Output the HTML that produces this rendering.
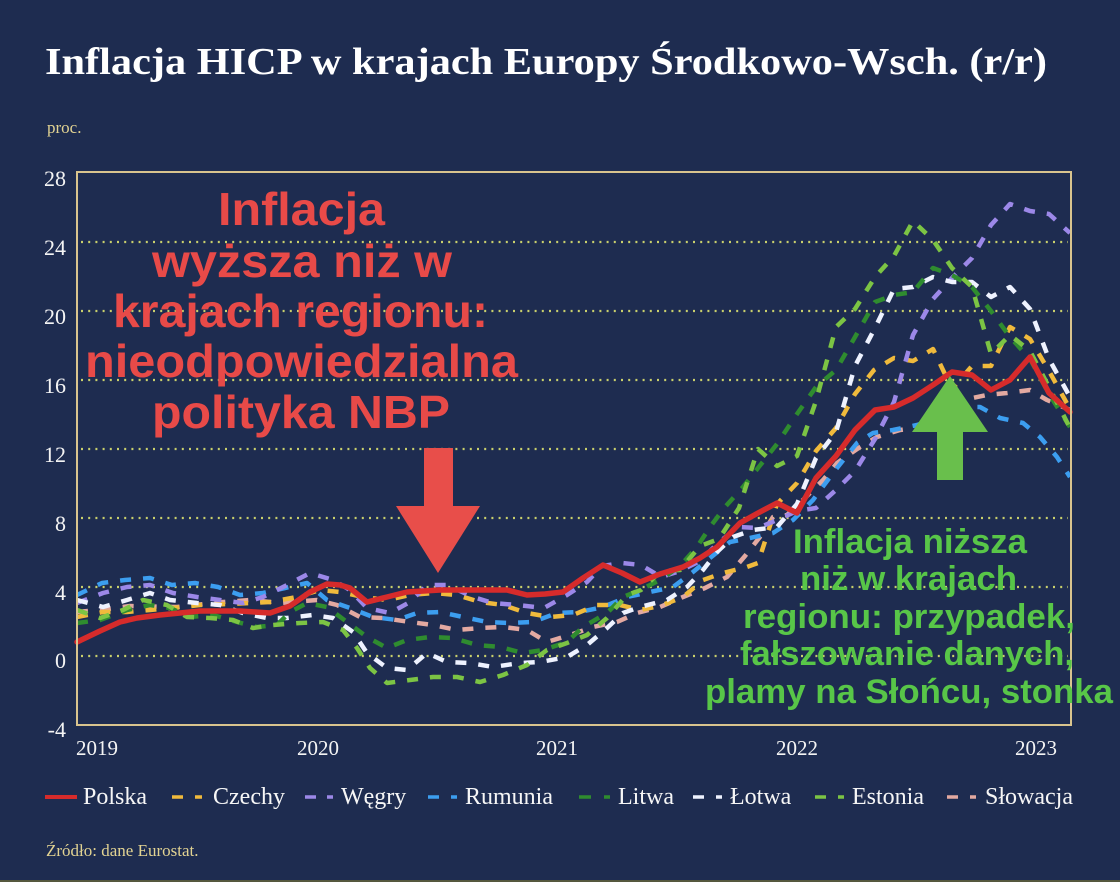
<!DOCTYPE html>
<html>
<head>
<meta charset="utf-8">
<style>
html,body{margin:0;padding:0;background:#1e2c50;}
body{width:1120px;height:882px;overflow:hidden;}
svg{display:block;}
</style>
</head>
<body>
<svg width="1120" height="882" viewBox="0 0 1120 882" xmlns="http://www.w3.org/2000/svg">
<rect x="0" y="0" width="1120" height="882" fill="#1e2c50"/>
<rect x="0" y="880" width="1120" height="2" fill="#55583d"/>

<!-- Title -->
<text x="45" y="74" font-family="Liberation Serif, serif" font-weight="bold" font-size="38" fill="#ffffff" textLength="1002" lengthAdjust="spacingAndGlyphs">Inflacja HICP w krajach Europy Środkowo-Wsch. (r/r)</text>
<text x="47" y="133" font-family="Liberation Serif, serif" font-size="17" fill="#e2d392">proc.</text>

<!-- Gridlines -->
<g stroke="#c9d06c" stroke-width="2.2" stroke-dasharray="2 5.2" fill="none">
<line x1="81" y1="242" x2="1068" y2="242"/>
<line x1="81" y1="311" x2="1068" y2="311"/>
<line x1="81" y1="380" x2="1068" y2="380"/>
<line x1="81" y1="449" x2="1068" y2="449"/>
<line x1="81" y1="518" x2="1068" y2="518"/>
<line x1="81" y1="587" x2="1068" y2="587"/>
<line x1="81" y1="656" x2="1068" y2="656"/>
</g>

<!-- Y labels -->
<g font-family="Liberation Serif, serif" font-size="22" fill="#f4f4f4" text-anchor="end">
<text x="66" y="186">28</text>
<text x="66" y="255">24</text>
<text x="66" y="324">20</text>
<text x="66" y="393">16</text>
<text x="66" y="462">12</text>
<text x="66" y="531">8</text>
<text x="66" y="600">4</text>
<text x="66" y="668">0</text>
<text x="66" y="737">-4</text>
</g>

<!-- X labels -->
<g font-family="Liberation Serif, serif" font-size="21" fill="#f4f4f4" text-anchor="middle">
<text x="76" y="755" text-anchor="start">2019</text>
<text x="318" y="755">2020</text>
<text x="557" y="755">2021</text>
<text x="797" y="755">2022</text>
<text x="1036" y="755">2023</text>
</g>

<!-- Series -->
<g fill="none" stroke-width="4.5" stroke-dasharray="11 12" stroke-linejoin="round">
<!-- Słowacja -->
<polyline stroke="#e3a9a1" points="77,612 100,610 130,606 177,607 223,602 250,600 280,603 317,600 337,605 360,617 383,618 410,622 433,625 457,630 480,628 503,627 527,630 547,642 570,635 593,627 617,622 637,613 660,607 683,597 705,588 727,577 745,556 763,533 773,517 787,515 805,498 823,480 837,463 860,447 877,437 900,430 923,427 943,420 963,400 987,395 1007,393 1030,390 1047,400 1063,407 1070,410"/>
<!-- Rumunia -->
<polyline stroke="#3c9ef0" points="77,595 102,583 125,580 150,578 172,585 195,583 218,587 240,595 263,593 285,588 307,583 327,600 350,608 373,617 397,620 417,613 440,612 463,617 487,622 510,623 533,622 557,613 580,612 603,607 627,597 650,592 673,587 693,572 710,558 730,542 750,538 773,533 793,520 813,500 833,473 857,443 873,433 893,430 917,425 933,420 957,407 980,407 1000,418 1023,423 1040,437 1057,457 1070,477"/>
<!-- Czechy -->
<polyline stroke="#f0ba3c" points="77,617 103,612 127,612 150,610 173,608 200,605 230,604 270,602 297,597 320,590 340,592 363,597 387,600 410,595 433,593 457,595 480,602 503,605 527,613 550,617 573,615 597,605 620,605 640,610 660,606 683,597 703,580 723,573 747,567 758,563 777,504 797,483 816,451 836,428 855,394 874,370 894,358 913,361 933,349 952,389 972,366 991,366 1010,327 1030,339 1049,371 1070,409"/>
<!-- Węgry -->
<polyline stroke="#9c88e8" points="77,603 103,593 127,587 150,585 173,593 197,597 220,600 243,603 263,597 287,585 310,573 333,580 350,590 367,608 390,613 410,602 427,585 447,585 473,597 493,603 517,605 544,608 567,595 587,582 602,566 622,563 641,565 661,577 680,571 700,561 719,542 739,527 758,528 777,520 797,511 816,508 836,490 855,471 875,439 894,402 913,335 933,299 952,278 972,258 991,225 1010,204 1030,211 1049,214 1070,233"/>
<!-- Łotwa -->
<polyline stroke="#eef2ff" points="77,600 103,607 127,600 150,593 170,600 197,603 220,605 243,613 267,618 287,618 313,615 333,618 353,632 367,653 387,668 407,670 427,653 447,662 470,663 493,667 520,663 540,662 567,657 587,645 607,628 623,613 640,607 667,600 687,587 703,570 717,552 733,537 753,530 777,527 797,504 816,458 836,432 855,366 875,328 894,289 913,287 933,277 952,282 972,282 991,297 1010,287 1030,309 1049,359 1070,397"/>
<!-- Litwa -->
<polyline stroke="#2f8c2f" points="77,623 100,620 127,610 150,605 170,608 190,617 213,615 237,622 257,627 277,625 290,612 307,603 327,607 347,622 367,637 387,648 407,640 430,637 453,638 477,645 500,647 523,653 543,650 567,642 583,627 607,613 623,597 640,590 660,580 680,566 697,547 710,527 725,507 743,487 758,468 777,444 797,414 816,387 836,370 855,337 875,302 894,295 913,292 933,268 952,275 972,287 991,311 1010,337 1030,359 1049,394 1070,427"/>
<!-- Estonia -->
<polyline stroke="#7cc444" points="77,610 100,618 123,610 143,600 167,605 187,617 210,618 233,620 253,628 273,625 300,623 323,622 343,630 357,648 370,668 387,683 410,680 433,677 457,677 480,682 503,675 527,665 547,650 567,643 587,635 607,618 627,595 641,590 661,571 680,570 700,546 719,539 739,508 758,449 777,466 797,456 816,401 836,327 855,309 875,277 894,256 913,221 933,240 952,268 972,287 991,354 1010,335 1030,351 1049,387 1070,428"/>
</g>
<!-- Polska -->
<polyline fill="none" stroke="#d62b2b" stroke-width="5.5" stroke-linejoin="round" stroke-linecap="round" points="77,642 100,631 120,622 137,618 160,615 200,611 240,611 270,613 290,606 310,592 327,584 340,585 350,588 367,602 387,597 407,592 440,590 470,590 507,590 527,595 545,594 563,592 583,578 603,565 622,573 640,582 660,574 683,567 700,558 717,547 740,523 758,513 777,503 797,513 816,478 836,456 855,430 875,410 894,407 913,398 933,385 952,372 972,375 991,390 1010,380 1030,357 1049,393 1070,412"/>

<!-- Frame -->
<rect x="77" y="172" width="994" height="553" fill="none" stroke="#d9c48e" stroke-width="2"/>

<!-- Red annotation -->
<g font-family="Liberation Sans, Arial, sans-serif" font-weight="bold" font-size="46" fill="#e84a48" lengthAdjust="spacingAndGlyphs">
<text x="218" y="225" textLength="167" lengthAdjust="spacingAndGlyphs">Inflacja</text>
<text x="152" y="277" textLength="300" lengthAdjust="spacingAndGlyphs">wyższa niż w</text>
<text x="113" y="327" textLength="375" lengthAdjust="spacingAndGlyphs">krajach regionu:</text>
<text x="85" y="377" textLength="433" lengthAdjust="spacingAndGlyphs">nieodpowiedzialna</text>
<text x="152" y="428" textLength="298" lengthAdjust="spacingAndGlyphs">polityka NBP</text>
</g>
<!-- Red arrow -->
<polygon fill="#e84e4a" points="424,448 453,448 453,506 480,506 438,573 396,506 424,506"/>

<!-- Green arrow -->
<polygon fill="#69bf4c" points="937,480 963,480 963,432 988,432 950,376 912,432 937,432"/>

<!-- Green annotation -->
<g font-family="Liberation Sans, Arial, sans-serif" font-weight="bold" font-size="34" fill="#58c648">
<text x="793" y="553" textLength="234" lengthAdjust="spacingAndGlyphs">Inflacja niższa</text>
<text x="800" y="590" textLength="217" lengthAdjust="spacingAndGlyphs">niż w krajach</text>
<text x="743" y="628" textLength="332" lengthAdjust="spacingAndGlyphs">regionu: przypadek,</text>
<text x="740" y="665" textLength="334" lengthAdjust="spacingAndGlyphs">fałszowanie danych,</text>
<text x="705" y="703" textLength="408" lengthAdjust="spacingAndGlyphs">plamy na Słońcu, stonka</text>
</g>

<!-- Legend -->
<g stroke-width="3.5" fill="none">
<line x1="45" y1="797" x2="77" y2="797" stroke="#d62b2b" stroke-width="4"/>
<line x1="172" y1="797" x2="183" y2="797" stroke="#f0ba3c"/><line x1="195" y1="797" x2="202" y2="797" stroke="#f0ba3c"/>
<line x1="305" y1="797" x2="316" y2="797" stroke="#9c88e8"/><line x1="327" y1="797" x2="333" y2="797" stroke="#9c88e8"/>
<line x1="428" y1="797" x2="439" y2="797" stroke="#3c9ef0"/><line x1="451" y1="797" x2="457" y2="797" stroke="#3c9ef0"/>
<line x1="579" y1="797" x2="591" y2="797" stroke="#2f8c2f"/><line x1="604" y1="797" x2="610" y2="797" stroke="#2f8c2f"/>
<line x1="693" y1="797" x2="704" y2="797" stroke="#eef2ff"/><line x1="716" y1="797" x2="722" y2="797" stroke="#eef2ff"/>
<line x1="815" y1="797" x2="826" y2="797" stroke="#7cc444"/><line x1="838" y1="797" x2="844" y2="797" stroke="#7cc444"/>
<line x1="947" y1="797" x2="958" y2="797" stroke="#e3a9a1"/><line x1="970" y1="797" x2="976" y2="797" stroke="#e3a9a1"/>
</g>
<g font-family="Liberation Serif, serif" font-size="24" fill="#f6f6f6">
<text x="83" y="804">Polska</text>
<text x="213" y="804">Czechy</text>
<text x="341" y="804">Węgry</text>
<text x="465" y="804">Rumunia</text>
<text x="618" y="804">Litwa</text>
<text x="730" y="804">Łotwa</text>
<text x="852" y="804">Estonia</text>
<text x="985" y="804">Słowacja</text>
</g>

<!-- Source -->
<text x="46" y="856" font-family="Liberation Serif, serif" font-size="17" fill="#e2d392">Źródło: dane Eurostat.</text>
</svg>
</body>
</html>
